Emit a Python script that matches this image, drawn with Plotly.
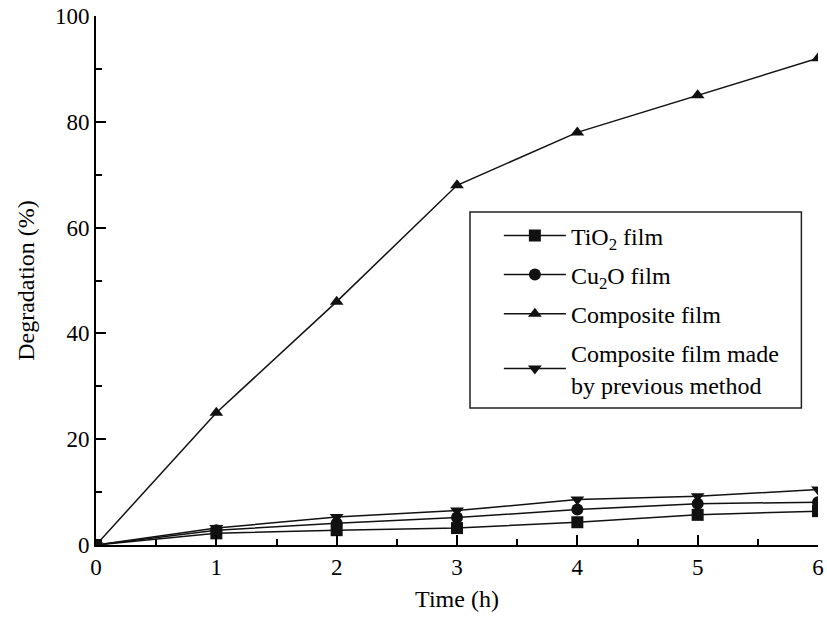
import plotly.graph_objects as go

time_h = [0, 1, 2, 3, 4, 5, 6]
tio2 = [0, 2.2, 2.8, 3.2, 4.3, 5.7, 6.4]
cu2o = [0, 2.8, 4.1, 5.2, 6.7, 7.8, 8.1]
composite = [0, 25, 46, 68, 78, 85, 92]
previous = [0, 3.2, 5.3, 6.5, 8.6, 9.2, 10.5]

series = [
    ("TiO<sub>2</sub> film", tio2, "square"),
    ("Cu<sub>2</sub>O film", cu2o, "circle"),
    ("Composite film", composite, "triangle-up"),
    ("Composite film made<br>by previous method", previous, "triangle-down"),
]

FONT = "Liberation Serif"

fig = go.Figure()
for i, (name, vals, sym) in enumerate(series):
    fig.add_trace(go.Scatter(
        x=time_h, y=vals, name=name, mode="lines+markers",
        legendgroup=f"g{i}",
        line=dict(color="#111", width=1.5),
        marker=dict(symbol=sym, size=12, color="#111"),
        cliponaxis=True,
    ))

axis_common = dict(
    showline=True, linecolor="black", linewidth=2,
    ticks="inside", ticklen=10, tickwidth=2, tickcolor="black",
    showgrid=False, zeroline=False, mirror=False,
    tickfont=dict(family=FONT, size=23, color="black"),
    ticklabeloverflow="allow",
)

fig.update_layout(
    width=827, height=619,
    margin=dict(l=96, r=3, t=16, b=74),
    plot_bgcolor="white", paper_bgcolor="white",
    font=dict(family=FONT, color="black"),
    xaxis=dict(
        range=[0, 6], dtick=1, **axis_common,
        minor=dict(ticks="inside", ticklen=6, tickwidth=2, tickcolor="black", dtick=0.5),
        title=dict(text="Time (h)", font=dict(family=FONT, size=24), standoff=12),
    ),
    yaxis=dict(
        range=[0, 100], dtick=20, **axis_common,
        minor=dict(ticks="inside", ticklen=6, tickwidth=2, tickcolor="black", dtick=10),
        title=dict(text="Degradation (%)", font=dict(family=FONT, size=24), standoff=14),
    ),
    legend=dict(
        x=0.558, y=0.627, xanchor="left", yanchor="top",
        borderwidth=0, bgcolor="rgba(0,0,0,0)",
        font=dict(family=FONT, size=24, color="black"),
        itemwidth=62, tracegroupgap=5,
    ),
    showlegend=True,
    # legend frame
    shapes=[dict(
        type="rect", xref="paper", yref="paper",
        x0=0.518, x1=0.977, y0=0.259, y1=0.6295,
        line=dict(color="#222", width=1.5), fillcolor="white", layer="below",
    )],
)

fig.write_html("out.html")
